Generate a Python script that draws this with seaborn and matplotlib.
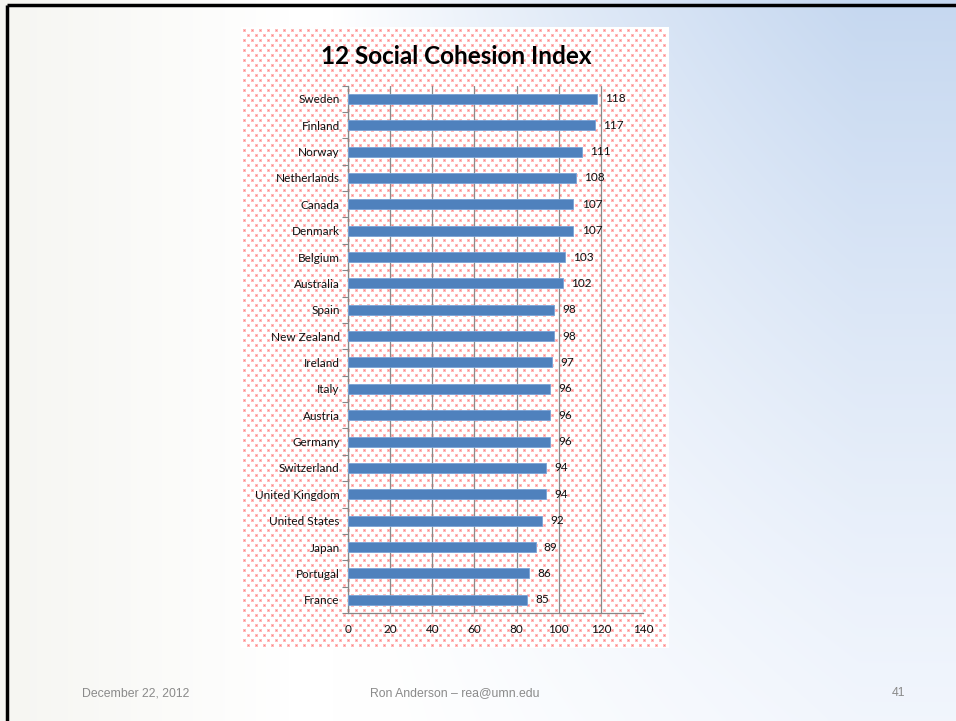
import numpy as np
import pandas as pd
import matplotlib
matplotlib.use("Agg")
import matplotlib.pyplot as plt
import seaborn as sns

countries = ["Sweden", "Finland", "Norway", "Netherlands", "Canada", "Denmark",
             "Belgium", "Australia", "Spain", "New Zealand", "Ireland", "Italy",
             "Austria", "Germany", "Switzerland", "United Kingdom",
             "United States", "Japan", "Portugal", "France"]
values = [118, 117, 111, 108, 107, 107, 103, 102, 98, 98, 97, 96, 96, 96,
          94, 94, 92, 89, 86, 85]
x_ticks = [0, 20, 40, 60, 80, 100, 120, 140]
title = "12 Social Cohesion Index"
footer_left = "December 22, 2012"
footer_mid = "Ron Anderson \u2013 rea@umn.edu"
footer_right = "41"

df = pd.DataFrame({"country": countries, "value": values})

sns.set_theme(style="white")
plt.rcParams["font.family"] = ["Lato", "DejaVu Sans"]

W, H = 956, 721
fig = plt.figure(figsize=(W / 100, H / 100), dpi=100)

# ---- slide background gradient ----
bg = fig.add_axes([0, 0, 1, 1])
bg.set_axis_off()
xx, yy = np.meshgrid(np.linspace(0, 1, 240), np.linspace(0, 1, 180))
blue = np.clip((xx - 0.35) / 0.55, 0, 1) ** 0.9 * np.clip(1 - yy * 0.95, 0, 1) ** 1.3
cream = np.clip(1 - xx / 0.3, 0, 1) * 0.7
white = np.array([1.0, 1.0, 1.0])
bluec = np.array([0xc6, 0xd8, 0xf0]) / 255
creamc = np.array([0xf2, 0xf2, 0xec]) / 255
lightb = np.array([0xf2, 0xf6, 0xfd]) / 255
base = white[None, None, :] * (1 - cream[..., None]) + creamc[None, None, :] * cream[..., None]
tint = np.clip((xx - 0.4) * 2.0, 0, 1)[..., None]
base = base * (1 - tint) + lightb[None, None, :] * tint
img = base * (1 - blue[..., None]) + bluec[None, None, :] * blue[..., None]
bg.imshow(img, aspect="auto", extent=[0, 1, 0, 1], origin="upper", interpolation="bilinear")
bg.set_xlim(0, 1)
bg.set_ylim(0, 1)
bg.plot([7 / W, 7 / W], [0, 1 - 5 / H], color="black", lw=2.5, transform=bg.transAxes, solid_capstyle="butt")
bg.plot([7 / W, 1], [1 - 5 / H, 1 - 5 / H], color="black", lw=2.5, transform=bg.transAxes, solid_capstyle="butt")

# ---- chart panel with pink dotted pattern ----
px0, px1, py0, py1 = 241, 669, 27, 648
pw, ph = px1 - px0, py1 - py0
pat = np.ones((ph, pw, 3))
dark = np.array([1.0, 0.52, 0.52])
light = np.array([1.0, 0.74, 0.74])
for i, r in enumerate(range(2, ph - 2, 5)):
    off = 2 if i % 2 == 0 else 6
    for c in range(off, pw - 2, 8):
        pat[r:r + 3, c:c + 3] = light
        pat[r + 1, c + 1] = dark
panel = fig.add_axes([px0 / W, 1 - py1 / H, pw / W, ph / H])
panel.imshow(pat, aspect="auto", interpolation="nearest")
panel.set_axis_off()

# ---- plot axes ----
ax_l, ax_r, ax_t, ax_b = 348, 643, 85.6, 613
ax = fig.add_axes([ax_l / W, 1 - ax_b / H, (ax_r - ax_l) / W, (ax_b - ax_t) / H])
ax.patch.set_alpha(0)
sns.barplot(data=df, x="value", y="country", orient="h", color="#4f81bd",
            saturation=1, width=0.38, ax=ax, edgecolor="#7aa3d6", linewidth=0.6, zorder=3)
ax.set_xlim(0, 140)
ax.set_ylim(len(countries) - 0.5, -0.5)
ax.set_xticks(x_ticks)
ax.set_xticklabels([str(t) for t in x_ticks], fontsize=8.5, color="#111111")
ax.set_xlabel("")
ax.set_ylabel("")
ax.tick_params(axis="y", length=0, pad=6, labelsize=8.5, labelcolor="#111111")
ax.tick_params(axis="x", length=4, direction="out", color="#868686", width=0.8, pad=4)
ax.set_yticks(range(len(countries)))
ax.set_yticks(np.arange(-0.5, len(countries), 1), minor=True)
ax.tick_params(axis="y", which="minor", length=4, direction="out", color="#868686", width=0.8, left=True)
ax.grid(axis="x", color="#8a8a8a", lw=0.9, zorder=0)
ax.grid(axis="y", visible=False)
for s in ["top", "right"]:
    ax.spines[s].set_visible(False)
for s in ["left", "bottom"]:
    ax.spines[s].set_color("#868686")
    ax.spines[s].set_linewidth(0.9)

for cont in ax.containers:
    ax.bar_label(cont, labels=[str(v) for v in values], padding=6, fontsize=8.5, color="#111111")

fig.text(456 / W, 1 - 57 / H, title, ha="center", va="center", fontsize=17.5, fontweight="bold", color="black")

ff = ["Liberation Sans", "DejaVu Sans"]
fig.text(136 / W, 1 - 693 / H, footer_left, ha="center", va="center", fontsize=8.8, color="#8a8a8a", family=ff)
fig.text(455 / W, 1 - 693 / H, footer_mid, ha="center", va="center", fontsize=8.8, color="#8a8a8a", family=ff)
fig.text(899 / W, 1 - 693 / H, footer_right, ha="center", va="center", fontsize=8.8, color="#8a8a8a", family=ff)

fig.savefig("out.png", dpi=100)
